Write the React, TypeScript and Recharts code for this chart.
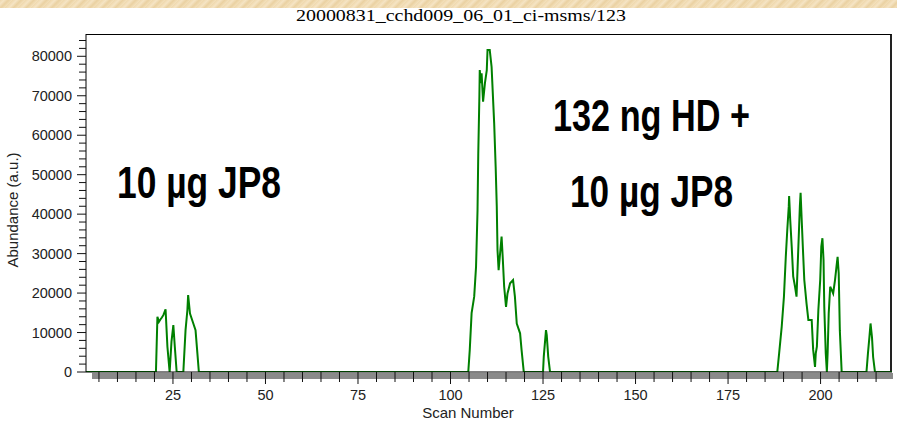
import React from 'react';
import { LineChart, Line, XAxis, YAxis } from 'recharts';

// Total ion chromatogram: scan number vs. abundance
const scanNumbers = [
  1.5, 20.4, 20.8, 21.2, 21.6, 22.0, 22.4, 23.0, 23.5, 24.1, 24.6, 25.1, 25.5, 26.0,
  27.8, 28.4, 28.9, 29.1, 29.6, 30.5, 31.1, 31.6, 32.0,
  104.8, 105.2, 105.7, 106.4, 106.9, 107.3, 107.5, 107.8, 107.9, 108.2, 108.4, 108.8,
  109.3, 109.8, 110.0, 110.6, 111.1, 111.8, 112.2, 112.5, 112.7, 113.0, 113.4, 113.8,
  114.1, 114.5, 115.0, 115.4, 116.1, 116.9, 117.4, 117.9, 118.8, 119.2, 119.8,
  125.0, 125.2, 125.8, 126.0, 126.4, 126.9,
  188.3, 188.8, 189.5, 190.1, 190.6, 191.0, 191.4, 191.5, 191.8, 192.2, 192.6, 193.1,
  193.5, 194.0, 194.4, 194.6, 194.9, 195.2, 195.6, 196.2, 196.7, 197.6, 198.0, 198.5,
  198.7, 199.0, 199.4, 199.9, 200.2, 200.5, 200.8, 201.0, 201.4, 201.7, 201.9, 202.2,
  202.6, 203.0, 203.4, 203.9, 204.3, 204.6, 204.9, 205.2, 205.7,
  212.4, 212.8, 213.2, 213.5, 213.9, 214.2, 214.7, 219.3,
];

const abundance = [
  0, 0, 14000, 12700, 13300, 13800, 14400, 15900, 6400, 0, 7700, 11900, 6400, 0,
  0, 10600, 15700, 19500, 14800, 12300, 10600, 4700, 0,
  0, 5600, 14900, 19100, 26700, 41000, 55400, 69800, 76500, 73200, 75700, 68500,
  73200, 76500, 81600, 81600, 77300, 63000, 52000, 41900, 30900, 25800, 30100, 34300,
  29200, 21600, 16500, 19900, 22500, 23300, 19100, 12300, 9800, 5600, 0,
  0, 3900, 10600, 9400, 3900, 0,
  0, 4700, 11500, 19100, 29200, 36000, 41900, 44600, 38500, 31800, 24200, 21600,
  19100, 31800, 41900, 45400, 38500, 31800, 23300, 17400, 13200, 13200, 5600, 1300,
  4700, 6400, 15700, 23300, 31800, 33900, 28400, 16500, 4700, 0, 4700, 14900,
  21600, 20800, 19900, 23300, 26700, 29200, 25000, 10600, 0,
  0, 4700, 8900, 12300, 8700, 3800, 0, 0,
];

const scanTicks = [
  5, 10, 15, 20, 25, 30, 35, 40, 45, 50, 55, 60, 65, 70, 75, 80, 85, 90, 95, 100,
  105, 110, 115, 120, 125, 130, 135, 140, 145, 150, 155, 160, 165, 170, 175, 180,
  185, 190, 195, 200, 205, 210, 215,
];
const abundanceTicks = [
  0, 2000, 4000, 6000, 8000, 10000, 12000, 14000, 16000, 18000, 20000, 22000, 24000,
  26000, 28000, 30000, 32000, 34000, 36000, 38000, 40000, 42000, 44000, 46000, 48000,
  50000, 52000, 54000, 56000, 58000, 60000, 62000, 64000, 66000, 68000, 70000, 72000,
  74000, 76000, 78000, 80000, 82000, 84000,
];

const chartTitle = '20000831_cchd009_06_01_ci-msms/123';
const xAxisTitle = 'Scan Number';
const yAxisTitle = 'Abundance (a.u.)';
const sampleLabel = '10 µg JP8';
const mixtureLabel = ['132 ng HD +', '10 µg JP8'];

const data = scanNumbers.map((scan, i) => ({ scan, abundance: abundance[i] }));

const SANS = '"Liberation Sans", Arial, sans-serif';
const SERIF = '"Liberation Serif", "Times New Roman", serif';
const TRACE = '#008000';

const ScanTick = (props: any) => {
  const { x, y, payload } = props;
  const major = payload.value % 25 === 0;
  return (
    <g>
      <line x1={x} x2={x} y1={y} y2={y + (major ? 12 : 10)} stroke="#111" strokeWidth={1} />
      {major && (
        <text x={x} y={y + 28} textAnchor="middle" fontFamily={SANS} fontSize={14.5} fill="#222">
          {payload.value}
        </text>
      )}
    </g>
  );
};

const AbundanceTick = (props: any) => {
  const { x, y, payload } = props;
  const major = payload.value % 10000 === 0;
  return (
    <g>
      <line x1={x} x2={x - (major ? 9 : 7)} y1={y} y2={y} stroke="#111" strokeWidth={1} />
      {major && (
        <text x={x - 14} y={y + 5} textAnchor="end" fontFamily={SANS} fontSize={14.5} fill="#222">
          {payload.value}
        </text>
      )}
    </g>
  );
};

export default function App() {
  return (
    <div
      style={{
        position: 'absolute',
        left: 0,
        top: 0,
        width: 897,
        height: 423,
        background: '#ffffff',
        overflow: 'hidden',
      }}
    >
      {/* parchment strip along the top edge */}
      <div
        style={{
          position: 'absolute',
          left: 0,
          top: 0,
          width: 897,
          height: 8,
          background:
            'repeating-linear-gradient(135deg, #efd8ad 0px, #f5e4c4 3px, #ead1a2 6px, #f3e0bb 9px)',
        }}
      />
      {/* shaded band under the scan axis */}
      <div
        style={{
          position: 'absolute',
          left: 92,
          top: 373,
          width: 801,
          height: 6,
          background: '#8a8a8a',
        }}
      />
      {/* plot frame (top and right sides) */}
      <div
        style={{
          position: 'absolute',
          left: 86,
          top: 34,
          width: 806,
          height: 338,
          borderTop: '1px solid #000',
          borderRight: '2px solid #222',
          boxSizing: 'border-box',
        }}
      />
      <div style={{ position: 'absolute', left: 0, top: 0 }}>
        <LineChart width={897} height={423} data={data} margin={{ top: 34, right: 5, bottom: 0, left: 0 }}>
          <XAxis
            dataKey="scan"
            type="number"
            domain={[1.5, 219.3]}
            allowDataOverflow
            ticks={scanTicks}
            interval={0}
            tickSize={0}
            tickMargin={0}
            tickLine={false}
            height={51}
            axisLine={{ stroke: '#000', strokeWidth: 1 }}
            tick={<ScanTick />}
          />
          <YAxis
            type="number"
            domain={[0, 85650]}
            allowDataOverflow
            ticks={abundanceTicks}
            interval={0}
            width={86}
            tickSize={0}
            tickMargin={0}
            tickLine={false}
            axisLine={{ stroke: '#000', strokeWidth: 1 }}
            tick={<AbundanceTick />}
          />
          <Line
            dataKey="abundance"
            type="linear"
            stroke={TRACE}
            strokeWidth={2}
            dot={false}
            isAnimationActive={false}
          />
        </LineChart>
      </div>
      <svg
        width={897}
        height={423}
        style={{ position: 'absolute', left: 0, top: 0, pointerEvents: 'none' }}
      >
        <text
          x={461}
          y={21}
          textAnchor="middle"
          fontFamily={SERIF}
          fontSize={16}
          fill="#000"
          textLength={330}
          lengthAdjust="spacingAndGlyphs"
        >
          {chartTitle}
        </text>
        <text x={468} y={418} textAnchor="middle" fontFamily={SANS} fontSize={15} fill="#222">
          {xAxisTitle}
        </text>
        <text
          x={0}
          y={0}
          transform="translate(18 210) rotate(-90)"
          textAnchor="middle"
          fontFamily={SANS}
          fontSize={15}
          fill="#222"
        >
          {yAxisTitle}
        </text>
        <text
          x={117}
          y={198}
          fontFamily={SANS}
          fontWeight="bold"
          fontSize={45}
          fill="#000"
          textLength={164}
          lengthAdjust="spacingAndGlyphs"
        >
          {sampleLabel}
        </text>
        <text
          x={553}
          y={131}
          fontFamily={SANS}
          fontWeight="bold"
          fontSize={45}
          fill="#000"
          textLength={197}
          lengthAdjust="spacingAndGlyphs"
        >
          {mixtureLabel[0]}
        </text>
        <text
          x={570}
          y={207}
          fontFamily={SANS}
          fontWeight="bold"
          fontSize={45}
          fill="#000"
          textLength={163}
          lengthAdjust="spacingAndGlyphs"
        >
          {mixtureLabel[1]}
        </text>
      </svg>
    </div>
  );
}
